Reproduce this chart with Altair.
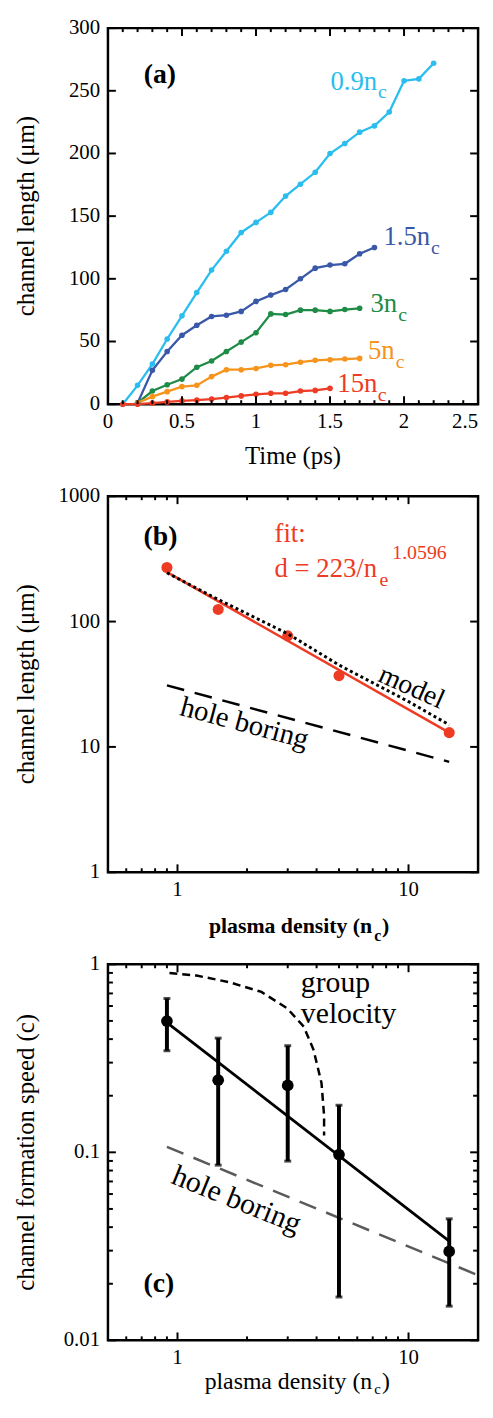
import altair as alt
import pandas as pd

FONT = "Liberation Serif"
W, H = 374, 380

# ---------------- panel (a): channel length vs time ----------------
series_names = ["0.9", "1.5", "3", "5", "15"]
series_colors = ["#2ABDEE", "#3A58A8", "#1E8B47", "#F7941D", "#EE3B24"]

t_09 = [0.1, 0.2, 0.3, 0.4, 0.5, 0.6, 0.7, 0.8, 0.9, 1.0, 1.1, 1.2, 1.3, 1.4, 1.5, 1.6, 1.7, 1.8, 1.9, 2.0, 2.1, 2.2]
L_09 = [0, 15, 32, 52, 70.5, 89, 107, 122, 137, 145, 153, 166, 175.5, 185, 200, 208, 217, 222, 233, 258, 259.5, 272]
t_15 = [0.2, 0.3, 0.4, 0.5, 0.6, 0.7, 0.8, 0.9, 1.0, 1.1, 1.2, 1.3, 1.4, 1.5, 1.6, 1.7, 1.8]
L_15 = [1, 27, 42, 55, 63, 70, 71, 74, 82, 87, 91.5, 100, 108.5, 111, 112, 120, 125]
t_3 = [0.2, 0.3, 0.4, 0.5, 0.6, 0.7, 0.8, 0.9, 1.0, 1.1, 1.2, 1.3, 1.4, 1.5, 1.6, 1.7]
L_3 = [1, 10.5, 15.5, 20, 29.5, 34.5, 42, 49.5, 57, 72, 71.5, 75, 75, 74, 75.5, 76.5]
t_5 = [0.2, 0.3, 0.4, 0.5, 0.6, 0.7, 0.8, 0.9, 1.0, 1.1, 1.2, 1.3, 1.4, 1.5, 1.6, 1.7]
L_5 = [1, 6, 10, 14, 15, 22, 27.5, 27.5, 28.5, 31, 31.5, 33.5, 35, 35.5, 36, 36.5]
t_15nc = [0.1, 0.2, 0.3, 0.4, 0.5, 0.6, 0.7, 0.8, 0.9, 1.0, 1.1, 1.2, 1.3, 1.4, 1.5]
L_15nc = [0, 0, 0.8, 1.8, 2.6, 3.2, 4, 5.3, 6.6, 7.9, 8.7, 8.7, 10.5, 11, 12.6]

a_xmaj = [0, 0.5, 1, 1.5, 2, 2.5]
a_xmin = [0.1, 0.2, 0.3, 0.4, 0.6, 0.7, 0.8, 0.9, 1.1, 1.2, 1.3, 1.4, 1.6, 1.7, 1.8, 1.9, 2.1, 2.2, 2.3, 2.4]
a_ymaj = [0, 50, 100, 150, 200, 250, 300]
a_xlab_vals = [0, 0.5, 1, 1.5, 2]
a_xlab_text = ["0", "0.5", "1", "1.5", "2"]
a_xlab_edge = "2.5"
a_ylab_text = ["0", "50", "100", "150", "200", "250", "300"]

# ---------------- panel (b): channel length vs density ----------------
dens = [0.9, 1.5, 3, 5, 15]
final_len = [270, 125, 77, 37, 13]
fit_n = [0.9, 15]
fit_d = [248, 13]
model_n = [0.9, 1.5, 3, 5, 10, 15]
model_d = [245, 150, 80, 45, 23, 15]
hb_n = [0.9, 15]
hb_d = [31, 7.6]
b_ymaj = [1, 10, 100, 1000]
b_ylab_text = ["1", "10", "100", "1000"]

log_xmaj = [1, 10]
log_xlab_text = ["1", "10"]
log_xmin = [0.6, 0.7, 0.8, 0.9, 2, 3, 4, 5, 6, 7, 8, 9]

# ---------------- panel (c): channel formation speed ----------------
speed = [0.499, 0.242, 0.227, 0.0973, 0.0297]
speed_hi = [0.658, 0.405, 0.369, 0.178, 0.0443]
speed_lo = [0.347, 0.0855, 0.0898, 0.017, 0.0152]
trend_n = [0.9, 15]
trend_v = [0.49, 0.0337]
gv_n = [0.923, 1.21, 1.675, 2.31, 2.99, 3.52, 3.88, 4.20, 4.31, 4.31]
gv_v = [0.90, 0.871, 0.803, 0.713, 0.582, 0.466, 0.351, 0.234, 0.157, 0.123]
hbc_n = [0.9, 20]
hbc_v = [0.107, 0.0222]
c_ymaj = [0.01, 0.1, 1]
c_ylab_text = ["0.01", "0.1", "1"]
c_ymin = [0.02, 0.03, 0.04, 0.05, 0.06, 0.07, 0.08, 0.09, 0.2, 0.3, 0.4, 0.5, 0.6, 0.7, 0.8, 0.9]

LABEL_SIZE = 21


# ---------------- helpers ----------------
def xticks(vals, field, length):
    df = pd.DataFrame({field: vals})
    base = alt.Chart(df).mark_rule(color="black", strokeWidth=2)
    bot = base.encode(x=alt.X(f"{field}:Q"), y=alt.value(H), y2=alt.value(H - length))
    top = base.encode(x=alt.X(f"{field}:Q"), y=alt.value(0), y2=alt.value(length))
    return [bot, top]


def yticks(vals, field, length):
    df = pd.DataFrame({field: vals})
    base = alt.Chart(df).mark_rule(color="black", strokeWidth=2)
    left = base.encode(y=alt.Y(f"{field}:Q"), x=alt.value(0), x2=alt.value(length))
    right = base.encode(y=alt.Y(f"{field}:Q"), x=alt.value(W), x2=alt.value(W - length))
    return [left, right]


def xlabels(vals, texts, field, align="center"):
    df = pd.DataFrame({field: vals, "lab": texts})
    return alt.Chart(df).mark_text(font=FONT, fontSize=LABEL_SIZE, color="black", align=align,
                                   baseline="alphabetic").encode(
        x=alt.X(f"{field}:Q"), y=alt.value(H + 24), text="lab:N")


def ylabels(vals, texts, field):
    df = pd.DataFrame({field: vals, "lab": texts})
    return alt.Chart(df).mark_text(font=FONT, fontSize=LABEL_SIZE, color="black", align="right",
                                   baseline="middle").encode(
        y=alt.Y(f"{field}:Q"), x=alt.value(-8), text="lab:N")


def dlabel(x, y, s, size=27, color="black", weight="normal", align="left",
           baseline="alphabetic", angle=0, dx=0, dy=0):
    return alt.Chart(pd.DataFrame({"s": [s]})).mark_text(
        font=FONT, fontSize=size, color=color, fontWeight=weight, align=align,
        baseline=baseline, angle=angle, dx=dx, dy=dy
    ).encode(x=alt.XDatum(x), y=alt.YDatum(y), text="s:N")


def plabel(px, py, s, size=25, color="black", weight="normal", align="left",
           baseline="alphabetic", angle=0, dx=0, dy=0):
    return alt.Chart(pd.DataFrame({"s": [s]})).mark_text(
        font=FONT, fontSize=size, color=color, fontWeight=weight, align=align,
        baseline=baseline, angle=angle, dx=dx, dy=dy
    ).encode(x=alt.value(px), y=alt.value(py), text="s:N")


def ytitle(s):
    return plabel(-75, H / 2, s, size=25, align="center", angle=270)


# ---------------- build panel (a) ----------------
rows = []
for name, ts, ls in zip(series_names, [t_09, t_15, t_3, t_5, t_15nc], [L_09, L_15, L_3, L_5, L_15nc]):
    for i, (t, l) in enumerate(zip(ts, ls)):
        rows.append({"series": name, "t": t, "v": l, "i": i})
dfa = pd.DataFrame(rows)

color_a = alt.Color("series:N", scale=alt.Scale(domain=series_names, range=series_colors), legend=None)
xa = alt.X("t:Q", scale=alt.Scale(domain=[0, 2.5], nice=False, zero=False))
ya = alt.Y("v:Q", scale=alt.Scale(domain=[0, 300], nice=False))

a_lines = alt.Chart(dfa).mark_line(strokeWidth=2.3).encode(x=xa, y=ya, color=color_a, order="i:Q")
a_pts = alt.Chart(dfa).mark_circle(size=32, opacity=1).encode(x=xa, y=ya, color=color_a)

a_labels = []
lab_spec = [  # text, x, y, color, subscript dx
    ("0.9n", 1.503, 251, series_colors[0], 48),
    ("1.5n", 1.861, 126.8, series_colors[1], 48),
    ("3n", 1.773, 73.7, series_colors[2], 28),
    ("5n", 1.756, 36, series_colors[3], 28),
    ("15n", 1.549, 9.7, series_colors[4], 41),
]
for s, x, y, col, sdx in lab_spec:
    a_labels.append(dlabel(x, y, s, size=27, color=col))
    a_labels.append(dlabel(x, y, "c", size=20, color=col, dx=sdx, dy=9))
a_labels.append(dlabel(0.242, 256.6, "(a)", size=28, weight="bold"))
a_labels.append(plabel(W / 2, H + 60, "Time (ps)", size=25, align="center"))
a_labels.append(ytitle("channel length (μm)"))
a_edge = alt.Chart(pd.DataFrame({"t": [2.5], "lab": [a_xlab_edge]})).mark_text(
    font=FONT, fontSize=LABEL_SIZE, color="black", align="right", baseline="alphabetic").encode(
    x=alt.X("t:Q"), y=alt.value(H + 24), text="lab:N")

panel_a = alt.layer(
    a_lines, a_pts,
    *xticks(a_xmaj, "t", 8), *xticks(a_xmin, "t", 4), *yticks(a_ymaj, "v", 8),
    xlabels(a_xlab_vals, a_xlab_text, "t"), a_edge, ylabels(a_ymaj, a_ylab_text, "v"),
    *a_labels
).properties(width=W, height=H)

# ---------------- build panel (b) ----------------
xlog = alt.Scale(type="log", domain=[0.5, 20], nice=False)
dfb = pd.DataFrame({"n": dens, "d": final_len})
xb = alt.X("n:Q", scale=xlog)
yb = alt.Y("d:Q", scale=alt.Scale(type="log", domain=[1, 1000], nice=False))

b_pts = alt.Chart(dfb).mark_circle(size=125, opacity=1, color="#EE3B24").encode(x=xb, y=yb)
b_fit = alt.Chart(pd.DataFrame({"n": fit_n, "d": fit_d})).mark_line(color="#EE3B24", strokeWidth=2.5).encode(
    x=xb, y=yb)
b_model = alt.Chart(pd.DataFrame({"n": model_n, "d": model_d})).mark_line(
    color="black", strokeWidth=3, strokeDash=[3, 3]).encode(x=xb, y=yb)
b_hb = alt.Chart(pd.DataFrame({"n": hb_n, "d": hb_d})).mark_line(
    color="black", strokeWidth=2.5, strokeDash=[18, 11]).encode(x=xb, y=yb)

b_labels = [
    dlabel(0.713, 411, "(b)", size=28, weight="bold"),
    dlabel(2.63, 434, "fit:", size=27, color="#EE3B24"),
    dlabel(2.63, 226, "d = 223/n", size=27, color="#EE3B24"),
    dlabel(2.63, 226, "e", size=20, color="#EE3B24", dx=106, dy=9),
    dlabel(2.63, 226, "1.0596", size=20, color="#EE3B24", dx=119, dy=-18),
    dlabel(10.3, 29.7, "model", size=28, align="center", baseline="middle", angle=24),
    dlabel(1.95, 15.5, "hole boring", size=29, align="center", baseline="middle", angle=15),
    plabel(W / 2 + 80, H + 61, "plasma density (n", size=22, weight="bold", align="right"),
    plabel(W / 2 + 82, H + 61, "c", size=16, weight="bold", dy=8),
    plabel(W / 2 + 90, H + 61, ")", size=22, weight="bold"),
    ytitle("channel length (μm)"),
]

panel_b = alt.layer(
    b_pts, b_fit, b_model, b_hb,
    *xticks(log_xmaj, "n", 8), *xticks(log_xmin, "n", 4), *yticks(b_ymaj, "d", 8),
    xlabels(log_xmaj, log_xlab_text, "n"), ylabels(b_ymaj, b_ylab_text, "d"),
    *b_labels
).properties(width=W, height=H)

# ---------------- build panel (c) ----------------
dfc = pd.DataFrame({"n": dens, "s": speed, "lo": speed_lo, "hi": speed_hi})
xc = alt.X("n:Q", scale=xlog)
yc = alt.Y("s:Q", scale=alt.Scale(type="log", domain=[0.01, 1], nice=False))

c_pts = alt.Chart(dfc).mark_circle(size=140, opacity=1, color="black").encode(x=xc, y=yc)
c_hb = alt.Chart(pd.DataFrame({"n": hbc_n, "s": hbc_v})).mark_line(
    color="#5a5a5a", strokeWidth=2.5, strokeDash=[18, 11]).encode(x=xc, y=yc)
c_gv = alt.Chart(pd.DataFrame({"n": gv_n, "s": gv_v, "i": list(range(len(gv_n)))})).mark_line(
    color="black", strokeWidth=2.5, strokeDash=[8, 5]).encode(x=xc, y=yc, order="i:Q")
c_trend = alt.Chart(pd.DataFrame({"n": trend_n, "s": trend_v})).mark_line(
    color="black", strokeWidth=2.8).encode(x=xc, y=yc)
c_err = alt.Chart(dfc).mark_rule(color="black", strokeWidth=4).encode(
    x=xc, y=alt.Y("lo:Q"), y2="hi:Q")
c_cap_hi = alt.Chart(dfc).mark_tick(color="black", orient="horizontal", size=7, thickness=3).encode(
    x=xc, y=alt.Y("hi:Q"))
c_cap_lo = alt.Chart(dfc).mark_tick(color="black", orient="horizontal", size=7, thickness=3).encode(
    x=xc, y=alt.Y("lo:Q"))

c_labels = [
    dlabel(0.713, 0.0181, "(c)", size=28, weight="bold"),
    dlabel(3.42, 0.713, "group", size=30),
    dlabel(3.42, 0.489, "velocity", size=30),
    dlabel(1.80, 0.0558, "hole boring", size=30, align="center", baseline="middle", angle=22),
    plabel(W / 2 + 80, H + 49, "plasma density (n", size=24, align="right"),
    plabel(W / 2 + 82, H + 49, "c", size=15, dy=5),
    plabel(W / 2 + 90, H + 49, ")", size=24),
    ytitle("channel formation speed (c)"),
]

panel_c = alt.layer(
    c_pts, c_hb, c_gv, c_trend, c_err, c_cap_hi, c_cap_lo,
    *xticks(log_xmaj, "n", 8), *xticks(log_xmin, "n", 4),
    *yticks(c_ymaj, "s", 8), *yticks(c_ymin, "s", 5),
    xlabels(log_xmaj, log_xlab_text, "n"), ylabels(c_ymaj, c_ylab_text, "s"),
    *c_labels
).properties(width=W, height=H)

chart = alt.vconcat(panel_a, panel_b, panel_c, spacing=93, bounds="flush").properties(
    padding={"left": 4, "top": 0, "right": 0, "bottom": 0}
).configure_view(
    stroke="black", strokeWidth=2.5
).configure_axis(
    disable=True
)

chart.save("out.html", embed_options={"renderer": "svg", "actions": False})
